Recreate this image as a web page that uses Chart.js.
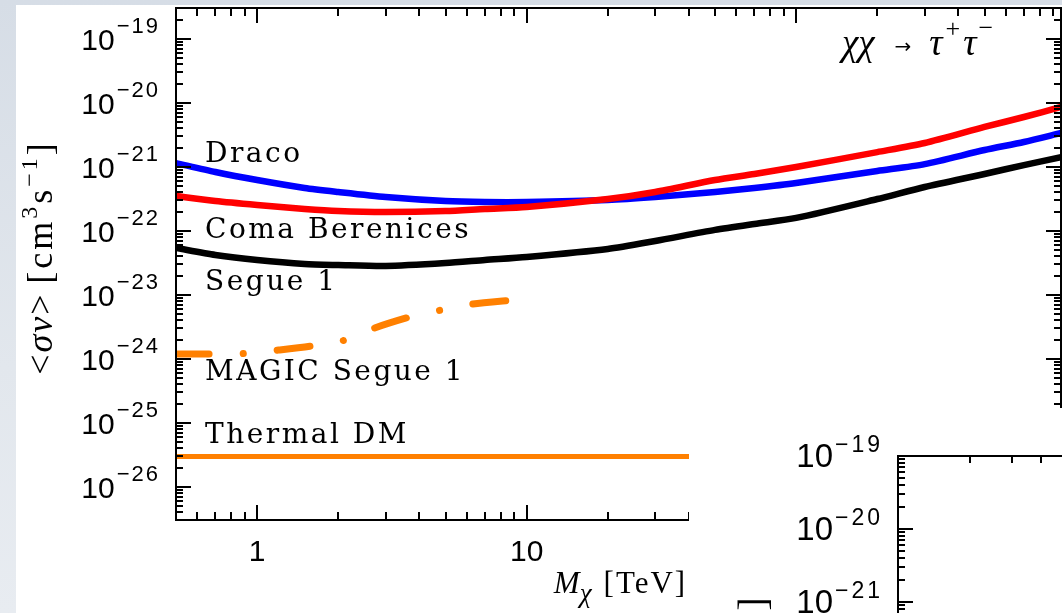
<!DOCTYPE html>
<html><head><meta charset="utf-8">
<script src="https://cdn.jsdelivr.net/npm/chart.js@4.4.1/dist/chart.umd.min.js"></script>
<style>
html,body{margin:0;padding:0;width:1062px;height:613px;overflow:hidden;}
body{background:linear-gradient(180deg,#d6dde6 0%,#e2e7ed 60%,#e8ecf1 100%);position:relative;}
#w1{position:absolute;left:16px;top:5px;width:1046px;height:608px;background:#fff;}
#w2{position:absolute;left:689px;top:408px;width:373px;height:205px;background:#fff;overflow:hidden;}
canvas{display:block;}
</style></head><body>
<div id="w1"><canvas id="c1" width="1046" height="608"></canvas></div>
<div id="w2"><canvas id="c2" width="373" height="205"></canvas></div>
<script>
// ---------- data ----------
const massTeV = [0.5,0.7,1,1.5,2,3,5,7,10,20,30,50,70,100,200,300,500,700,961];
const dracoLimit = [1.15e-21,8.35e-22,6.26e-22,4.70e-22,4.07e-22,3.40e-22,2.94e-22,2.84e-22,2.84e-22,3.05e-22,3.40e-22,4.07e-22,4.70e-22,5.62e-22,8.66e-22,1.11e-21,1.84e-21,2.46e-21,3.40e-21];
const comaLimit = [3.52e-22,2.94e-22,2.55e-22,2.21e-22,2.05e-22,1.98e-22,2.05e-22,2.21e-22,2.37e-22,3.16e-22,4.07e-22,6.26e-22,7.78e-22,1.0e-21,1.71e-21,2.37e-21,4.22e-21,6.04e-21,8.66e-21];
const segueLimit = [5.42e-23,4.22e-23,3.52e-23,3.05e-23,2.94e-23,2.84e-23,3.16e-23,3.52e-23,3.92e-23,5.23e-23,6.98e-23,1.04e-22,1.29e-22,1.60e-22,3.16e-22,4.87e-22,7.78e-22,1.07e-21,1.43e-21];
const magicMass = [0.5,0.7,0.9,1.2,1.6,2.2,2.7,3.8,5,6.3,9];
const magicLimit = [1.2e-24,1.2e-24,1.22e-24,1.38e-24,1.6e-24,2.05e-24,3.0e-24,4.7e-24,6.0e-24,7.2e-24,8.35e-24];
const thermalMass = [0.5,961];
const thermalLimit = [3e-26,3e-26];
const curveLabels = ['Draco','Coma Berenices','Segue 1','MAGIC Segue 1','Thermal DM'];
const yTickExponents = [-19,-20,-21,-22,-23,-24,-25,-26];
const xTickLabels = [1,10];
const channelLabel = ['\u03C7\u03C7','\u2192','\u03C4','+','\u03C4','\u2212'];
const inset2YTickExponents = [-19,-20,-21];

// ---------- helpers ----------
const SANS='"Liberation Sans", Arial, sans-serif';
const SERIF='"Liberation Serif", "Times New Roman", serif';
const DSERIF='"DejaVu Serif", serif';
const pts=(xs,ys)=>xs.map((x,i)=>({x:x,y:ys[i]}));

function setFont(ctx,f,ls){ctx.font=f;ctx.letterSpacing=(ls||0)+'px';}
function runsWidth(ctx,runs){let w=0;for(const r of runs){setFont(ctx,r.f,r.ls);w+=ctx.measureText(r.t).width+(r.gap||0);}return w;}
function drawRuns(ctx,runs,x,y,align){
  const w=runsWidth(ctx,runs);
  let cx=align==='center'?x-w/2:align==='right'?x-w:x;
  ctx.textAlign='left';ctx.textBaseline='alphabetic';ctx.fillStyle='#000';
  for(const r of runs){setFont(ctx,r.f,r.ls);ctx.fillText(r.t,cx,y+(r.dy||0));cx+=ctx.measureText(r.t).width+(r.gap||0);}
  ctx.letterSpacing='0px';
}
function logTicks(scale){
  const out=[];const lo=Math.floor(Math.log10(scale.min))-1,hi=Math.ceil(Math.log10(scale.max))+1;
  for(let e=lo;e<=hi;e++)for(let k=1;k<=9;k++){const v=k*Math.pow(10,e);
    if(v>=scale.min*0.9999&&v<=scale.max*1.0001)out.push({v:v,major:k===1});}
  return out;
}
function yTitleRuns(s){
  const sup=Math.round(s*0.66);
  return [
    {t:'<',f:`${s}px ${SERIF}`,ls:2},
    {t:'\u03C3v',f:`italic ${s}px ${SERIF}`,ls:2},
    {t:'>',f:`${s}px ${SERIF}`,gap:s*0.3},
    {t:'[cm',f:`${s}px ${SERIF}`,ls:3},
    {t:'3',f:`${sup}px ${SERIF}`,ls:3,dy:-s*0.42},
    {t:'s',f:`${s}px ${SERIF}`,ls:3},
    {t:'\u22121',f:`${sup}px ${SERIF}`,ls:3,dy:-s*0.42},
    {t:']',f:`${s}px ${SERIF}`}
  ];
}

// ---------- main chart decoration ----------
const mainDeco={id:'mainDeco',afterDraw(chart){
  const ctx=chart.ctx,a=chart.chartArea,x=chart.scales.x,y=chart.scales.y;
  ctx.save();
  ctx.strokeStyle='#000';ctx.lineWidth=2;ctx.lineCap='butt';
  ctx.beginPath();
  ctx.rect(a.left,a.top,a.right-a.left,a.bottom-a.top);
  for(const t of logTicks(y)){const py=Math.round(y.getPixelForValue(t.v));const L=t.major?15:7;
    ctx.moveTo(a.left,py);ctx.lineTo(a.left+L,py);ctx.moveTo(a.right,py);ctx.lineTo(a.right-L,py);}
  for(const t of logTicks(x)){const px=Math.round(x.getPixelForValue(t.v));const L=t.major?15:8;
    ctx.moveTo(px,a.bottom);ctx.lineTo(px,a.bottom-L);ctx.moveTo(px,a.top);ctx.lineTo(px,a.top+L);}
  ctx.stroke();
  // y tick labels
  for(const e of yTickExponents){const py=y.getPixelForValue(Math.pow(10,e));
    drawRuns(ctx,[{t:'10',f:`30px ${SANS}`,gap:2},{t:'\u2212'+(-e),f:`22px ${SANS}`,ls:2,dy:-17}],a.left-16,py+11,'right');}
  // x tick labels
  for(const v of xTickLabels){const px=x.getPixelForValue(v);
    drawRuns(ctx,[{t:String(v),f:`30px ${SANS}`}],px,a.bottom+41,'center');}
  // x title
  drawRuns(ctx,[{t:'M',f:`italic 31px ${SERIF}`},{t:'\u03C7',f:`italic 27px ${SERIF}`,dy:9,gap:12},{t:'[TeV]',f:`31px ${SERIF}`,ls:2}],(a.left+a.right)/2+2,a.bottom+73,'center');
  // y title
  ctx.save();ctx.translate(a.left-124,(a.top+a.bottom)/2-5);ctx.rotate(-Math.PI/2);
  drawRuns(ctx,yTitleRuns(36),0,0,'center');ctx.restore();
  // curve labels
  const offs=[154,230,282,372,435];
  curveLabels.forEach((s,i)=>drawRuns(ctx,[{t:s,f:`28px ${DSERIF}`,ls:2.5}],a.left+29,a.top+offs[i],'left'));
  // channel label
  const it=`italic 37px ${SERIF}`;
  drawRuns(ctx,[{t:channelLabel[0],f:it,gap:20},{t:channelLabel[1],f:`20px "DejaVu Sans"`,dy:-2,gap:18},
    {t:channelLabel[2],f:it,gap:3},{t:channelLabel[3],f:`26px ${SERIF}`,dy:-18,gap:3},
    {t:channelLabel[4],f:it,gap:2},{t:channelLabel[5],f:`26px ${SERIF}`,dy:-19}],a.right-219,a.top+47,'left');
  ctx.restore();
}};

const lineDs=(label,data,color,w,order,extra)=>Object.assign({label:label,data:data,borderColor:color,backgroundColor:color,
  borderWidth:w,pointRadius:0,fill:false,tension:0.25,order:order},extra||{});

new Chart(document.getElementById('c1'),{
  type:'line',
  data:{datasets:[
    lineDs(curveLabels[1],pts(massTeV,comaLimit),'#ff0000',6.5,0),
    lineDs(curveLabels[0],pts(massTeV,dracoLimit),'#0000ff',6.5,1),
    lineDs(curveLabels[2],pts(massTeV,segueLimit),'#000000',6.5,2),
    lineDs(curveLabels[3],pts(magicMass,magicLimit),'#ff8000',7,3,{borderDash:[33,34,0.1,34],borderCapStyle:'round'}),
    lineDs(curveLabels[4],pts(thermalMass,thermalLimit),'#ff8000',5,4,{tension:0})
  ]},
  options:{
    responsive:false,animation:false,events:[],
    layout:{padding:{top:3,right:1,left:0,bottom:0}},
    plugins:{legend:{display:false},tooltip:{enabled:false},title:{display:false}},
    scales:{
      x:{type:'logarithmic',min:0.5,max:961,bounds:'data',grid:{display:false},border:{display:false},ticks:{display:false},
         afterFit(s){s.height=93;}},
      y:{type:'logarithmic',min:3.05e-27,max:3.05e-19,bounds:'data',grid:{display:false},border:{display:false},ticks:{display:false},
         afterFit(s){s.width=160;}}
    }
  },
  plugins:[mainDeco]
});

// ---------- second (overlapping) panel ----------
const insetDeco={id:'insetDeco',afterDraw(chart){
  const ctx=chart.ctx,a=chart.chartArea,x=chart.scales.x,y=chart.scales.y;
  ctx.save();ctx.strokeStyle='#000';ctx.lineWidth=2;
  ctx.beginPath();
  ctx.moveTo(a.left,a.bottom+5);ctx.lineTo(a.left,a.top);ctx.lineTo(a.right+5,a.top);
  for(const t of logTicks(y)){const py=Math.round(y.getPixelForValue(t.v));const L=t.major?15:7;
    ctx.moveTo(a.left,py);ctx.lineTo(a.left+L,py);}
  for(const t of logTicks(x)){const px=Math.round(x.getPixelForValue(t.v));const L=t.major?15:7;
    ctx.moveTo(px,a.top);ctx.lineTo(px,a.top+L);}
  ctx.stroke();
  for(const e of inset2YTickExponents){const py=y.getPixelForValue(Math.pow(10,e));
    drawRuns(ctx,[{t:'10',f:`33px ${SANS}`,gap:2},{t:'\u2212'+(-e),f:`23px ${SANS}`,ls:3,dy:-15}],a.left-15,py+10.5,'right');}
  ctx.save();ctx.translate(a.left-132,0);ctx.rotate(-Math.PI/2);
  drawRuns(ctx,yTitleRuns(41),-189,0,'right');ctx.restore();
  ctx.restore();
}};

new Chart(document.getElementById('c2'),{
  type:'line',
  data:{datasets:[]},
  options:{
    responsive:false,animation:false,events:[],
    layout:{padding:{top:48,right:0,left:0,bottom:0}},
    plugins:{legend:{display:false},tooltip:{enabled:false}},
    scales:{
      x:{type:'logarithmic',min:1,max:4.89,bounds:'data',grid:{display:false},border:{display:false},ticks:{display:false},
         afterFit(s){s.height=0;}},
      y:{type:'logarithmic',min:7.07e-22,max:1e-19,bounds:'data',grid:{display:false},border:{display:false},ticks:{display:false},
         afterFit(s){s.width=209;}}
    }
  },
  plugins:[insetDeco]
});
</script></body></html>
